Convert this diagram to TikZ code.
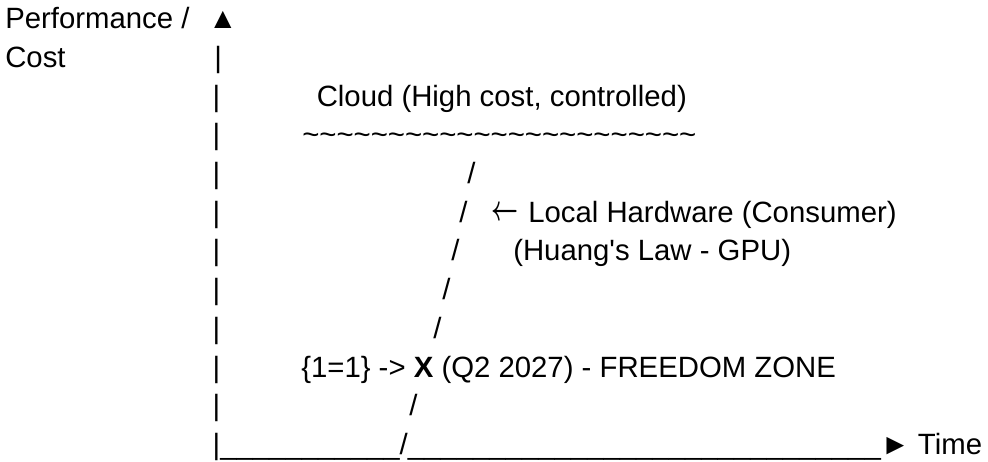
\documentclass[tikz,border=0pt]{standalone}
\usepackage{fontspec}
\setmainfont{Liberation Sans}
\usetikzlibrary{positioning}

\newcommand{\tld}{\textasciitilde}
\newcommand{\us}{\_}

\begin{document}
\begin{tikzpicture}[
    x=0.75pt, y=-0.75pt,
    txt/.style={anchor=base west, inner sep=0pt, font=\fontsize{22}{26}\selectfont},
    axis/.style={txt},
    slash/.style={txt}
]
\useasboundingbox (0,0) rectangle (988,461);

% Vertical axis label and tip
\node[txt] (perf) at (5,28.7) {Performance /};
\node[axis] (tip) at (208,28.7) {▲};
\node[txt] (cost) at (5,67.4) {Cost};
\node[axis] (bar2) at (214.2,67.4) {|};

% Vertical axis bars
\foreach \i/\y in {3/106.1,4/144.8,5/183.5,6/222.2,7/260.9,8/299.6,9/338.3,10/377,11/415.7}
    \node[axis] (bar\i) at (212.4,\y) {|};

% Cloud curve
\node[txt] (cloud) at (316.5,106.1) {Cloud (High cost, controlled)};
\node[txt] (wave) at (302,144.8) {\tld\tld\tld\tld\tld\tld\tld\tld\tld\tld\tld\tld\tld\tld\tld\tld\tld\tld\tld\tld\tld\tld\tld};

% Local hardware line
\node[slash] (s5) at (467,183.5) {/};
\node[slash] (s6) at (459,222.2) {/};
\node[txt] (larrow) at (491,220.5) {\scalebox{0.85}[1.3]{\boldmath$\leftarrow$}};
\node[txt] (local) at (528,222.2) {Local Hardware (Consumer)};
\node[slash] (s7) at (451,260.9) {/};
\node[txt] (huang) at (513,260.9) {(Huang\textquotesingle s Law - GPU)};
\node[slash] (s8) at (442,299.6) {/};
\node[slash] (s9) at (433,338.3) {/};

% Crossing point
\node[txt] (cross) at (301,377) {\{1=1\} -> \textbf{X} (Q2 2027) - FREEDOM ZONE};
\node[slash] (s11) at (409,415.7) {/};

% Time axis
\node[axis] (timeaxis) at (212.4,454.4) {|\us\us\us\us\us\us\us\us\us\us\us/\us\us\us\us\us\us\us\us\us\us\us\us\us\us\us\us\us\us\us\us\us\us\us\us\us\us\us\us\us► Time};

\end{tikzpicture}
\end{document}
